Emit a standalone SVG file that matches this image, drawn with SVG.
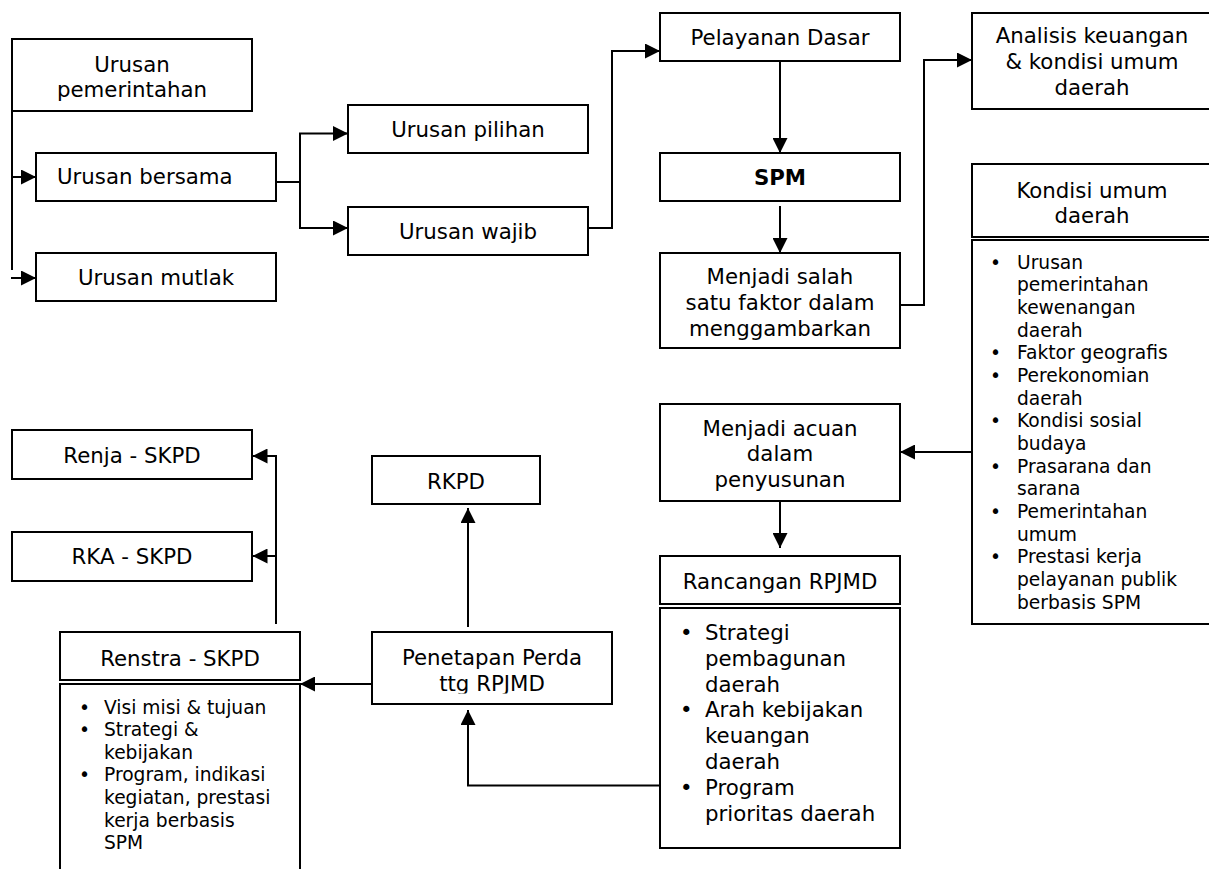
<svg xmlns="http://www.w3.org/2000/svg" width="1209" height="869" viewBox="0 0 1209 869">
<style>
.box{fill:#fff;stroke:#000;stroke-width:2}
.t{font-family:"DejaVu Sans",Verdana,sans-serif;font-size:21.3px;fill:#000;text-anchor:middle}
.l{font-family:"DejaVu Sans",Verdana,sans-serif;font-size:21.3px;fill:#000}
.s{font-family:"DejaVu Sans",Verdana,sans-serif;font-size:18.67px;fill:#000}
.b{font-weight:bold}
.c{fill:none;stroke:#000;stroke-width:2}
.a{marker-end:url(#ah)}
</style>
<defs>
<marker id="ah" markerUnits="userSpaceOnUse" markerWidth="15" markerHeight="15" viewBox="0 0 15 15" refX="15" refY="7.5" orient="auto"><path d="M0,0 L15,7.5 L0,15 z" fill="#000"/></marker>
<clipPath id="penclip"><rect x="372" y="632" width="240" height="61.5"/></clipPath>
</defs>
<rect width="1209" height="869" fill="#fff"/>

<g id="connectors">
<path class="c" d="M12,111 V270"/>
<path class="c a" d="M12,177 H36"/>
<path class="c a" d="M11,278 H36"/>
<path class="c" d="M276,182 H300"/>
<path class="c" d="M300,133 V229"/>
<path class="c a" d="M299,133.5 H348"/>
<path class="c a" d="M299,228 H348"/>
<path class="c a" d="M588,228 H612 V51 H660"/>
<path class="c a" d="M780,61 V153"/>
<path class="c a" d="M780,206 V253"/>
<path class="c a" d="M900,305 H924 V60 H972"/>
<path class="c a" d="M972,452 H900"/>
<path class="c a" d="M780,501 V548"/>
<path class="c a" d="M660,785.5 H468 V710"/>
<path class="c a" d="M468,627 V508"/>
<path class="c a" d="M372,684 H300"/>
<path class="c" d="M276,624 V456"/>
<path class="c a" d="M277,456 H252.5"/>
<path class="c a" d="M277,556 H252.5"/>
</g>

<g id="urusan-pemerintahan">
<rect class="box" x="12" y="39" width="240" height="72"/>
<text class="t" x="132" y="71.7">Urusan</text>
<text class="t" x="132" y="97.2">pemerintahan</text>
</g>
<g id="urusan-bersama">
<rect class="box" x="36" y="153" width="240" height="48"/>
<text class="l" x="57" y="184">Urusan bersama</text>
</g>
<g id="urusan-mutlak">
<rect class="box" x="36" y="253" width="240" height="48"/>
<text class="t" x="156" y="285">Urusan mutlak</text>
</g>
<g id="urusan-pilihan">
<rect class="box" x="348" y="105" width="240" height="48"/>
<text class="t" x="468" y="137">Urusan pilihan</text>
</g>
<g id="urusan-wajib">
<rect class="box" x="348" y="207" width="240" height="48"/>
<text class="t" x="468" y="238.5">Urusan wajib</text>
</g>
<g id="pelayanan-dasar">
<rect class="box" x="660" y="13" width="240" height="48"/>
<text class="t" x="780" y="45">Pelayanan Dasar</text>
</g>
<g id="spm">
<rect class="box" x="660" y="153" width="240" height="48"/>
<text class="t b" x="780" y="184.5">SPM</text>
</g>
<g id="menjadi-salah">
<rect class="box" x="660" y="253" width="240" height="95"/>
<text class="t" x="780" y="284">Menjadi salah</text>
<text class="t" x="780" y="309.8">satu faktor dalam</text>
<text class="t" x="780" y="335.6">menggambarkan</text>
</g>
<g id="analisis">
<rect class="box" x="972" y="13" width="240" height="96"/>
<text class="t" x="1092" y="43">Analisis keuangan</text>
<text class="t" x="1092" y="68.8">&amp; kondisi umum</text>
<text class="t" x="1092" y="94.5">daerah</text>
</g>
<g id="kondisi-umum">
<rect class="box" x="972" y="164" width="240" height="73"/>
<text class="t" x="1092" y="198">Kondisi umum</text>
<text class="t" x="1092" y="223">daerah</text>
<rect class="box" x="972" y="240" width="240" height="384"/>
<g class="s">
<text x="990" y="268.5">•</text><text x="1017" y="268.5">Urusan</text>
<text x="1017" y="291.2">pemerintahan</text>
<text x="1017" y="313.8">kewenangan</text>
<text x="1017" y="336.5">daerah</text>
<text x="990" y="359.2">•</text><text x="1017" y="359.2">Faktor geografis</text>
<text x="990" y="381.8">•</text><text x="1017" y="381.8">Perekonomian</text>
<text x="1017" y="404.5">daerah</text>
<text x="990" y="427.2">•</text><text x="1017" y="427.2">Kondisi sosial</text>
<text x="1017" y="449.9">budaya</text>
<text x="990" y="472.5">•</text><text x="1017" y="472.5">Prasarana dan</text>
<text x="1017" y="495.2">sarana</text>
<text x="990" y="517.9">•</text><text x="1017" y="517.9">Pemerintahan</text>
<text x="1017" y="540.5">umum</text>
<text x="990" y="563.2">•</text><text x="1017" y="563.2">Prestasi kerja</text>
<text x="1017" y="585.9">pelayanan publik</text>
<text x="1017" y="608.5">berbasis SPM</text>
</g>
</g>
<g id="menjadi-acuan">
<rect class="box" x="660" y="404" width="240" height="97"/>
<text class="t" x="780" y="435.5">Menjadi acuan</text>
<text class="t" x="780" y="461">dalam</text>
<text class="t" x="780" y="486.5">penyusunan</text>
</g>
<g id="rancangan-rpjmd">
<rect class="box" x="660" y="556" width="240" height="48"/>
<text class="t" x="780" y="589">Rancangan RPJMD</text>
<rect class="box" x="660" y="608" width="240" height="240"/>
<g class="l">
<text x="680" y="640">•</text><text x="705" y="640">Strategi</text>
<text x="705" y="665.8">pembagunan</text>
<text x="705" y="691.6">daerah</text>
<text x="680" y="717.4">•</text><text x="705" y="717.4">Arah kebijakan</text>
<text x="705" y="743.2">keuangan</text>
<text x="705" y="769">daerah</text>
<text x="680" y="794.8">•</text><text x="705" y="794.8">Program</text>
<text x="705" y="820.6">prioritas daerah</text>
</g>
</g>
<g id="penetapan-perda">
<rect class="box" x="372" y="632" width="240" height="72"/>
<g clip-path="url(#penclip)">
<text class="t" x="492" y="665">Penetapan Perda</text>
<text class="t" x="492" y="690.5">ttg RPJMD</text>
</g>
</g>
<g id="rkpd">
<rect class="box" x="372" y="456" width="168" height="48"/>
<text class="t" x="456" y="489">RKPD</text>
</g>
<g id="renja-skpd">
<rect class="box" x="12" y="430" width="240" height="49"/>
<text class="t" x="132" y="463">Renja - SKPD</text>
</g>
<g id="rka-skpd">
<rect class="box" x="12" y="532" width="240" height="49"/>
<text class="t" x="132" y="564">RKA - SKPD</text>
</g>
<g id="renstra-skpd">
<rect class="box" x="60" y="632" width="240" height="48"/>
<text class="t" x="180" y="665.5">Renstra - SKPD</text>
<rect class="box" x="60" y="684" width="240" height="200"/>
<g class="s">
<text x="79" y="713.6">•</text><text x="104" y="713.6">Visi misi &amp; tujuan</text>
<text x="79" y="736.2">•</text><text x="104" y="736.2">Strategi &amp;</text>
<text x="104" y="758.8">kebijakan</text>
<text x="79" y="781.4">•</text><text x="104" y="781.4">Program, indikasi</text>
<text x="104" y="804">kegiatan, prestasi</text>
<text x="104" y="826.6">kerja berbasis</text>
<text x="104" y="849.2">SPM</text>
</g>
</g>
</svg>
